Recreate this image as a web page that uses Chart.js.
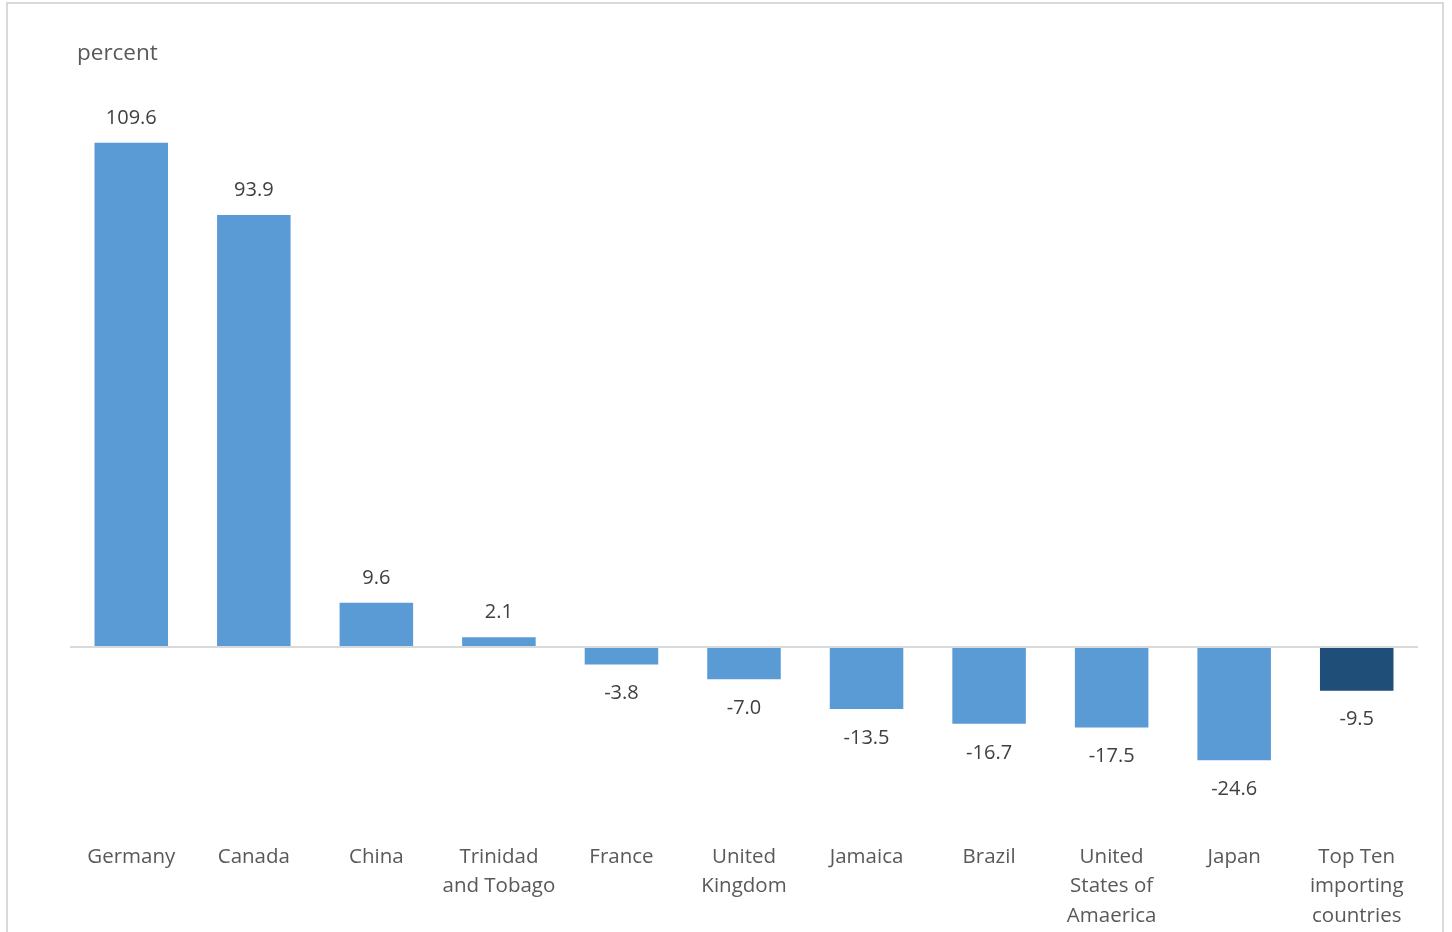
<!DOCTYPE html>
<html>
<head>
<meta charset="utf-8">
<script src="https://cdn.jsdelivr.net/npm/chart.js@4.4.0/dist/chart.umd.min.js"></script>
<style>
  html, body { margin: 0; padding: 0; background: #ffffff; overflow: hidden; }
  #frame { position: absolute; left: 6px; top: 2px; width: 1438px; height: 980px; border: 2px solid #d9d9d9; box-sizing: border-box; }
  #wrap { position: absolute; left: 0; top: 0; width: 1452px; height: 932px; }
</style>
</head>
<body>
<div id="frame"></div>
<div id="wrap"><canvas id="c" width="1452" height="932"></canvas></div>
<script>
const categories = [
  "Germany",
  "Canada",
  "China",
  ["Trinidad", "and Tobago"],
  "France",
  ["United", "Kingdom"],
  "Jamaica",
  "Brazil",
  ["United", "States of", "Amaerica"],
  "Japan",
  ["Top Ten", "importing", "countries"]
];
const values = [109.6, 93.9, 9.6, 2.1, -3.8, -7.0, -13.5, -16.7, -17.5, -24.6, -9.5];
const unitLabel = "percent";
const baseColor = "#5B9BD5";
const totalColor = "#1F4E79";
const barColors = categories.map((c, i) => i === categories.length - 1 ? totalColor : baseColor);

const FONT = "'Open Sans', 'Segoe UI', sans-serif";

const valueLabels = {
  id: 'valueLabels',
  afterDatasetsDraw(chart) {
    const ctx = chart.ctx;
    const meta = chart.getDatasetMeta(0);
    ctx.save();
    ctx.font = "20px " + FONT;
    ctx.fillStyle = "#404040";
    ctx.textAlign = "center";
    ctx.textBaseline = "middle";
    meta.data.forEach((bar, i) => {
      const v = values[i];
      const y = v >= 0 ? bar.y - 25 : bar.y + 29;
      ctx.fillText(v.toFixed(1), bar.x, y);
    });
    ctx.restore();
  }
};

const unitTitle = {
  id: 'unitTitle',
  afterDraw(chart) {
    const ctx = chart.ctx;
    ctx.save();
    ctx.font = "22.5px " + FONT;
    ctx.fillStyle = "#595959";
    ctx.textAlign = "left";
    ctx.textBaseline = "middle";
    ctx.fillText(unitLabel, chart.chartArea.left + 7, 54);
    ctx.restore();
  }
};

new Chart(document.getElementById('c'), {
  type: 'bar',
  data: {
    labels: categories,
    datasets: [{
      data: values,
      backgroundColor: barColors,
      borderWidth: 0,
      categoryPercentage: 1.0,
      barPercentage: 0.6
    }]
  },
  options: {
    responsive: false,
    animation: false,
    events: [],
    layout: { padding: { left: 70, right: 34, top: 95, bottom: 0 } },
    plugins: { legend: { display: false }, tooltip: { enabled: false }, title: { display: false } },
    scales: {
      x: {
        grid: { display: false },
        border: { display: false },
        ticks: {
          color: "#595959",
          font: { family: FONT, size: 20.5, lineHeight: 1.44 },
          autoSkip: false,
          maxRotation: 0,
          minRotation: 0,
          padding: 3
        },
        afterFit(scale) { scale.height = 101; }
      },
      y: {
        min: -40,
        max: 120,
        border: { display: false },
        grid: {
          drawTicks: false,
          lineWidth: 2,
          color: (ctx) => ctx.tick && ctx.tick.value === 0 ? "#d9d9d9" : "rgba(0,0,0,0)"
        },
        ticks: { display: false, stepSize: 20 },
        afterFit(scale) { scale.width = 0; }
      }
    }
  },
  plugins: [valueLabels, unitTitle]
});
</script>
</body>
</html>
